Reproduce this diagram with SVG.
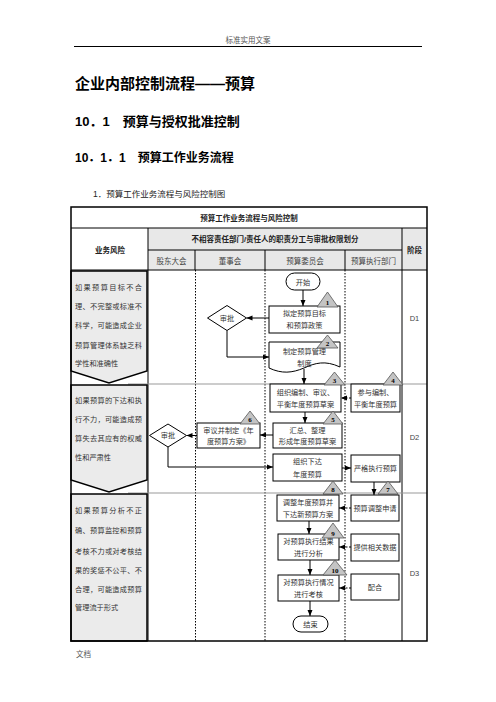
<svg xmlns="http://www.w3.org/2000/svg" width="496" height="702" viewBox="0 0 496 702">
<style>
.hd{font-family:"Liberation Sans","Noto Sans CJK SC",sans-serif;font-weight:bold;fill:#000}
.sm{font-family:"Liberation Sans","Noto Sans CJK SC",sans-serif;font-size:7.5px;fill:#555}
.th{font-family:"Liberation Sans","Noto Sans CJK SC",sans-serif;font-size:7.5px;font-weight:bold;fill:#222;text-anchor:middle}
.tc{font-family:"Liberation Sans","Noto Sans CJK SC",sans-serif;font-size:7.5px;fill:#444;text-anchor:middle}
.t{font-family:"Liberation Serif","Noto Sans CJK SC",serif;font-size:7.2px;fill:#333;text-anchor:middle}
.r{font-family:"Liberation Serif","Noto Sans CJK SC",serif;font-size:7.2px;fill:#333}
.n{font-family:"Liberation Serif","Noto Sans CJK SC",serif;font-size:7px;font-weight:bold;fill:#000;text-anchor:middle}
.box{fill:#fff;stroke:#000;stroke-width:1}
.tri{fill:#c4c4c4;stroke:#555;stroke-width:0.8}
.risk{fill:#ebebeb;stroke:#000;stroke-width:1.5}
.gray{fill:#e8e8e8}
.ln{stroke:#000;stroke-width:1;fill:none}
.dot{stroke:#000;stroke-width:1;stroke-dasharray:1.5,1.5;fill:none}
.sep{stroke:#999;stroke-width:1;fill:none}
.c{stroke:#000;stroke-width:1;fill:none;marker-end:url(#ah)}
.cd{stroke:#000;stroke-width:1;fill:none;stroke-dasharray:2,1.5;marker-end:url(#ah)}
</style>
<defs>
<marker id="ah" markerUnits="userSpaceOnUse" markerWidth="6" markerHeight="6" viewBox="0 0 6 6" refX="6" refY="3" orient="auto">
<path d="M0,0.5 L6,3 L0,5.5 Z" fill="#000"/>
</marker>
</defs>
<rect width="496" height="702" fill="#fff"/>
<!-- page header -->
<text class="sm" x="248" y="43" text-anchor="middle">标准实用文案</text>
<line x1="74" y1="46.5" x2="422" y2="46.5" stroke="#000" stroke-width="1"/>
<text class="hd" x="75" y="89" font-size="15">企业内部控制流程——预算</text>
<text class="hd" x="75" y="126" font-size="13">10．1　预算与授权批准控制</text>
<text class="hd" x="75" y="162" font-size="12">10．1．1　预算工作业务流程</text>
<text x="93" y="197" font-family="Liberation Sans,Noto Sans CJK SC,sans-serif" font-size="8.5" fill="#222">1．预算工作业务流程与风险控制图</text>
<!-- table -->
<g id="table">
<rect class="gray" x="148" y="228" width="279" height="42"/>
<line class="ln" x1="71" y1="228" x2="427" y2="228"/>
<line class="ln" x1="148" y1="250" x2="402" y2="250"/>
<line class="ln" x1="71" y1="270" x2="427" y2="270"/>
<line class="ln" x1="148" y1="228" x2="148" y2="641"/>
<line class="ln" x1="195" y1="250" x2="195" y2="270"/>
<line class="ln" x1="265" y1="250" x2="265" y2="270"/>
<line class="ln" x1="345" y1="250" x2="345" y2="270"/>
<line class="ln" x1="402" y1="228" x2="402" y2="641"/>
<line class="dot" x1="195.5" y1="270" x2="195.5" y2="641"/>
<line class="dot" x1="265" y1="270" x2="265" y2="641"/>
<line class="dot" x1="345" y1="270" x2="345" y2="641"/>
<line class="sep" x1="128" y1="384" x2="427" y2="384"/>
<line class="sep" x1="128" y1="493" x2="427" y2="493"/>
<text class="th" x="249" y="221">预算工作业务流程与风险控制</text>
<text class="th" x="275" y="242">不相容责任部门/责任人的职责分工与审批权限划分</text>
<text class="th" x="110" y="253">业务风险</text>
<text class="th" x="414.5" y="253">阶段</text>
<text class="tc" x="171.5" y="264">股东大会</text>
<text class="tc" x="230" y="264">董事会</text>
<text class="tc" x="305" y="264">预算委员会</text>
<text class="tc" x="373.5" y="264">预算执行部门</text>
<text class="tc" x="414.5" y="321" fill="#333">D1</text>
<text class="tc" x="414.5" y="440" fill="#333">D2</text>
<text class="tc" x="414.5" y="576" fill="#333">D3</text>
</g>
<!-- risks -->
<g id="risk1">
<path class="risk" d="M71,271 H147 V371 L109,383 L71,371 Z"/>
<text class="r" x="75" y="290" textLength="67" lengthAdjust="spacing">如果预算目标不合</text>
<text class="r" x="75" y="309" textLength="67" lengthAdjust="spacing">理、不完整或标准不</text>
<text class="r" x="75" y="328" textLength="67" lengthAdjust="spacing">科学，可能造成企业</text>
<text class="r" x="75" y="348" textLength="67" lengthAdjust="spacing">预算管理体系缺乏科</text>
<text class="r" x="75" y="366">学性和准确性</text>
</g>
<g id="risk2">
<path class="risk" d="M71,385 H147 V480 L109,492 L71,480 Z"/>
<text class="r" x="75" y="403" textLength="67" lengthAdjust="spacing">如果预算的下达和执</text>
<text class="r" x="75" y="422" textLength="67" lengthAdjust="spacing">行不力，可能造成预</text>
<text class="r" x="75" y="441" textLength="67" lengthAdjust="spacing">算失去其应有的权威</text>
<text class="r" x="75" y="460">性和严肃性</text>
</g>
<g id="risk3">
<path class="risk" d="M71,494 H147 V641 H71 Z"/>
<text class="r" x="75" y="513" textLength="67" lengthAdjust="spacing">如果预算分析不正</text>
<text class="r" x="75" y="533" textLength="67" lengthAdjust="spacing">确、预算监控和预算</text>
<text class="r" x="75" y="554" textLength="67" lengthAdjust="spacing">考核不力或对考核结</text>
<text class="r" x="75" y="573" textLength="67" lengthAdjust="spacing">果的奖惩不公平、不</text>
<text class="r" x="75" y="592" textLength="67" lengthAdjust="spacing">合理，可能造成预算</text>
<text class="r" x="75" y="610">管理流于形式</text>
</g>
<rect x="71" y="207" width="356" height="434" fill="none" stroke="#000" stroke-width="1.5"/>
<!-- connectors -->
<g id="connectors">
<path class="c" d="M303,290 V306"/>
<path class="c" d="M269,318 H246.5"/>
<path class="c" d="M227,330.5 V357 H269"/>
<path class="c" d="M304,369 V384"/>
<path class="cd" d="M351,398 H341"/>
<path class="c" d="M305,412 V423"/>
<path class="c" d="M273,435 H260"/>
<path class="c" d="M197,435.5 H186.5"/>
<path class="c" d="M168,447 V467 H273"/>
<path class="c" d="M342,468 H351"/>
<path class="c" d="M374,482 V495"/>
<path class="cd" d="M351,508 H339"/>
<path class="c" d="M309,521 V534"/>
<path class="cd" d="M351,547 H339"/>
<path class="c" d="M310,560 V575"/>
<path class="cd" d="M351,588 H339"/>
<path class="c" d="M310,601 V616"/>
</g>
<!-- nodes -->
<g id="start"><rect class="box" x="286" y="273" width="34" height="17" rx="8.5"/><text class="t" x="303" y="284.5">开始</text></g>
<g id="n1"><rect class="box" x="269" y="306" width="71" height="27"/><text class="t" x="304.5" y="316">拟定预算目标</text><text class="t" x="304.5" y="328">和预算政策</text></g>
<g id="tri1"><polygon class="tri" points="327.5,292 317,307 338,307"/><text class="n" x="327.5" y="305">1</text></g>
<g id="d1"><polygon class="box" points="207.5,318 227,305.5 246.5,318 227,330.5"/><text class="t" x="227" y="320.5">审批</text></g>
<g id="n2"><path class="box" d="M269,342 H340 V367 C325,360 315,363 304,368 C292,373 282,374 269,368 Z"/><text class="t" x="304.5" y="354">制定预算管理</text><text class="t" x="304.5" y="366">制度</text></g>
<g id="tri2"><polygon class="tri" points="327.5,335 317,348 338,348"/><text class="n" x="327.5" y="346">2</text></g>
<g id="n3"><rect class="box" x="270" y="384" width="71" height="28"/><text class="t" x="305.5" y="395">组织编制、审议、</text><text class="t" x="305.5" y="407">平衡年度预算草案</text></g>
<g id="tri3"><polygon class="tri" points="334.5,372 324,385 345,385"/><text class="n" x="334.5" y="383">3</text></g>
<g id="n4"><rect class="box" x="351" y="384" width="49" height="28"/><text class="t" x="375.5" y="395">参与编制、</text><text class="t" x="375.5" y="407">平衡年度预算</text></g>
<g id="tri4"><polygon class="tri" points="393,372 383,385 403,385"/><text class="n" x="393" y="383">4</text></g>
<g id="n5"><rect class="box" x="273" y="423" width="69" height="25"/><text class="t" x="307.5" y="433">汇总、整理</text><text class="t" x="307.5" y="444">形成年度预算草案</text></g>
<g id="tri5"><polygon class="tri" points="333,411 323,424 343,424"/><text class="n" x="333" y="422">5</text></g>
<g id="n6"><rect class="box" x="197" y="423" width="63" height="25"/><text class="t" x="228.5" y="433">审议并制定《年</text><text class="t" x="228.5" y="444">度预算方案》</text></g>
<g id="tri6"><polygon class="tri" points="250,411 240,424 260,424"/><text class="n" x="250" y="422">6</text></g>
<g id="d2"><polygon class="box" points="149.5,435.5 168,424 186.5,435.5 168,447"/><text class="t" x="168" y="438">审批</text></g>
<g id="n7a"><rect class="box" x="273" y="454" width="69" height="27"/><text class="t" x="307.5" y="464">组织下达</text><text class="t" x="307.5" y="477">年度预算</text></g>
<g id="n7b"><rect class="box" x="351" y="455" width="49" height="27"/><text class="t" x="375.5" y="471">严格执行预算</text></g>
<g id="tri7"><polygon class="tri" points="388,481 378,494 398,494"/><text class="n" x="388" y="492">7</text></g>
<g id="tri8"><polygon class="tri" points="333,481 323,494 343,494"/><text class="n" x="333" y="492">8</text></g>
<g id="n8"><rect class="box" x="277" y="495" width="62" height="26"/><text class="t" x="308" y="505">调整年度预算并</text><text class="t" x="308" y="517">下达新预算方案</text></g>
<g id="n8b"><rect class="box" x="351" y="495" width="48" height="26"/><text class="t" x="375" y="511">预算调整申请</text></g>
<g id="n9"><rect class="box" x="278" y="534" width="61" height="26"/><text class="t" x="308.5" y="544">对预算执行结果</text><text class="t" x="308.5" y="556">进行分析</text></g>
<g id="tri9"><polygon class="tri" points="333,523 322,538 344,538"/><text class="n" x="333" y="536">9</text></g>
<g id="n9b"><rect class="box" x="351" y="534" width="48" height="27"/><text class="t" x="375" y="550">提供相关数据</text></g>
<g id="n10"><rect class="box" x="278" y="575" width="61" height="26"/><text class="t" x="308.5" y="585">对预算执行情况</text><text class="t" x="308.5" y="597">进行考核</text></g>
<g id="tri10"><polygon class="tri" points="335,560 323,575 347,575"/><text class="n" x="335" y="573">10</text></g>
<g id="n10b"><rect class="box" x="351" y="574" width="48" height="26"/><text class="t" x="375" y="590">配合</text></g>
<g id="end"><rect class="box" x="293" y="616" width="35" height="16" rx="8"/><text class="t" x="310.5" y="627">结束</text></g>
<text class="sm" x="76" y="657">文档</text>
</svg>
